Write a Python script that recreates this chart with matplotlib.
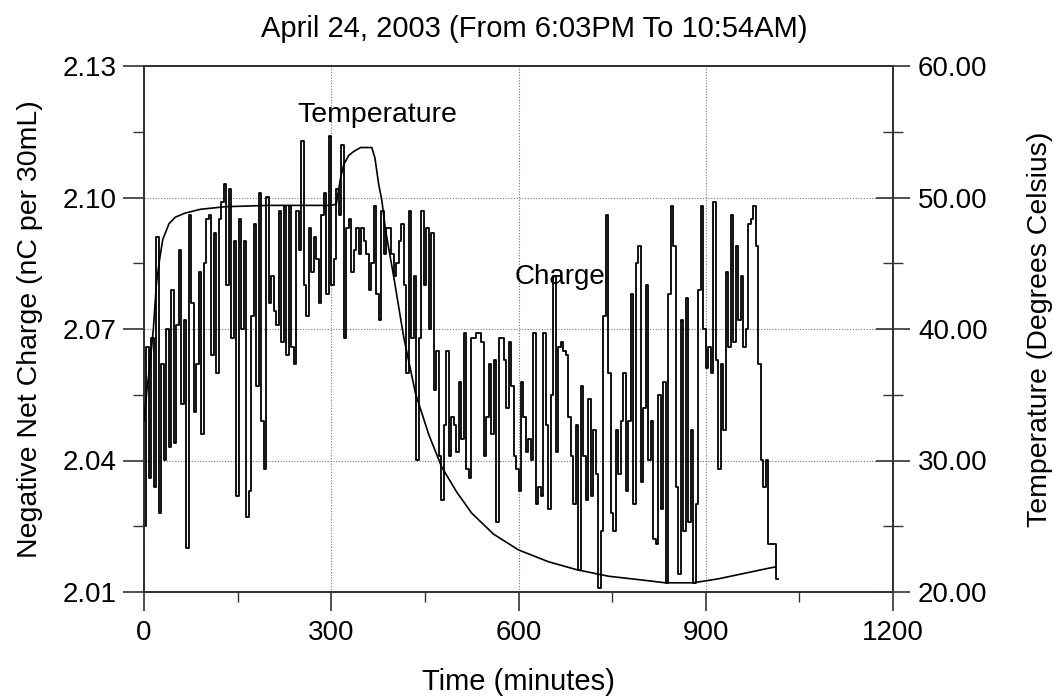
import numpy as np
import matplotlib
matplotlib.use("Agg")
import matplotlib.pyplot as plt
from matplotlib.ticker import MultipleLocator, FormatStrFormatter

plt.rcParams['font.family'] = ['Liberation Sans', 'DejaVu Sans']

TITLE = "April 24, 2003 (From 6:03PM To 10:54AM)"

# Charge readings, one every 4 minutes from the start of the run (nC per 30 mL)
SAMPLE_INTERVAL_MIN = 4
charge = [
    2.025, 2.066, 2.036, 2.068, 2.034, 2.091, 2.028, 2.062, 2.040, 2.070,
    2.043, 2.079, 2.044, 2.071, 2.088, 2.053, 2.072, 2.020, 2.096, 2.076,
    2.051, 2.062, 2.083, 2.046, 2.085, 2.095, 2.096, 2.064, 2.092, 2.060,
    2.095, 2.099, 2.103, 2.080, 2.102, 2.068, 2.090, 2.032, 2.095, 2.070,
    2.090, 2.027, 2.033, 2.073, 2.094, 2.057, 2.101, 2.049, 2.038, 2.100,
    2.076,
    2.082, 2.074, 2.071, 2.097, 2.067, 2.098, 2.064, 2.098, 2.066, 2.062,
    2.097, 2.088, 2.113, 2.080, 2.073, 2.093, 2.083, 2.091, 2.086, 2.076,
    2.096, 2.101, 2.078, 2.114, 2.080, 2.086, 2.102, 2.096, 2.112, 2.068,
    2.093, 2.095, 2.083, 2.088, 2.093, 2.087, 2.093, 2.090, 2.087, 2.079,
    2.085, 2.098, 2.078, 2.072, 2.097, 2.087, 2.093, 2.093, 2.087, 2.082,
    2.085, 2.090, 2.094, 2.080, 2.060, 2.097, 2.068, 2.082, 2.040, 2.068,
    2.097, 2.080, 2.093, 2.070, 2.092, 2.056, 2.065, 2.041, 2.031, 2.048,
    2.065, 2.041, 2.050, 2.048, 2.042, 2.058, 2.045, 2.069, 2.038, 2.036,
    2.068, 2.068, 2.069, 2.069, 2.067, 2.041, 2.050, 2.062, 2.046, 2.063,
    2.026, 2.068, 2.068, 2.063, 2.052, 2.067, 2.057, 2.041, 2.038, 2.033,
    2.058, 2.050, 2.042, 2.045, 2.040, 2.069, 2.030, 2.034, 2.032, 2.069,
    2.048, 2.029, 2.055, 2.082, 2.042, 2.066, 2.067, 2.065, 2.064, 2.050,
    2.041, 2.030, 2.048, 2.015, 2.057, 2.041, 2.031, 2.054, 2.032, 2.047,
    2.037, 2.011, 2.024, 2.073, 2.096, 2.060, 2.028, 2.024, 2.047, 2.037,
    2.049, 2.060, 2.033, 2.049, 2.078, 2.030, 2.085, 2.089, 2.035, 2.052,
    2.080, 2.040, 2.049, 2.022, 2.021, 2.055, 2.029, 2.058, 2.012, 2.078,
    2.098, 2.089, 2.034, 2.014, 2.072, 2.024, 2.077, 2.026, 2.047, 2.012,
    2.030, 2.079, 2.098, 2.070, 2.061, 2.066, 2.060, 2.099, 2.063, 2.038,
    2.062, 2.047, 2.083, 2.066, 2.096, 2.067, 2.089, 2.072, 2.082, 2.066,
    2.070, 2.094, 2.095, 2.098, 2.089, 2.062, 2.040, 2.034, 2.040, 2.021,
    2.021, 2.021, 2.013,
]
END_TIME_MIN = 1015

# Bath temperature (degrees Celsius) at selected times (minutes)
temp_time = [0, 5, 10, 15, 20, 25, 30, 40, 50, 65, 90, 130, 200, 300, 308,
             315, 320, 328, 336, 347, 365, 370, 376, 381, 387, 400, 416, 435,
             456, 477, 501, 525, 560, 600, 648, 693, 744, 800, 835, 880, 920,
             960, 1000, 1011]
temp_value = [33.0, 35.5, 37.5, 40.0, 43.5, 45.3, 46.8, 48.0, 48.5, 48.8, 49.1,
              49.3, 49.4, 49.4, 49.5, 51.5, 52.5, 53.2, 53.5, 53.8, 53.8, 53.0,
              51.0, 49.8, 47.5, 44.0, 39.4, 35.1, 32.0, 29.5, 27.6, 26.0, 24.4,
              23.2, 22.3, 21.7, 21.2, 20.9, 20.7, 20.7, 21.0, 21.4, 21.8, 21.9]

fig = plt.figure(figsize=(10.54, 6.98), dpi=100)
ax = fig.add_axes([144 / 1054, 1 - 592 / 698, (893 - 144) / 1054, (592 - 66) / 698])
ax2 = ax.twinx()

t = np.arange(len(charge)) * SAMPLE_INTERVAL_MIN
t_plot = np.append(t, END_TIME_MIN)
c_plot = np.append(charge, charge[-1])
ax.plot(t_plot, c_plot, drawstyle='steps-post', color='black', lw=1.3, zorder=3)
ax2.plot(temp_time, temp_value, color='black', lw=1.2, zorder=3)

ax.set_xlim(0, 1200)
ax.set_ylim(2.01, 2.13)
ax2.set_ylim(20, 60)

ax.xaxis.set_major_locator(MultipleLocator(300))
ax.xaxis.set_minor_locator(MultipleLocator(150))
ax.yaxis.set_major_locator(MultipleLocator(0.03))
ax.yaxis.set_minor_locator(MultipleLocator(0.015))
ax.yaxis.set_major_formatter(FormatStrFormatter('%.2f'))
ax2.yaxis.set_major_locator(MultipleLocator(10))
ax2.yaxis.set_minor_locator(MultipleLocator(5))
ax2.yaxis.set_major_formatter(FormatStrFormatter('%.2f'))

ax.grid(True, which='major', linestyle=(0, (1, 1.5)), color='#777777', lw=0.8)
ax.set_axisbelow(True)

spine_color = '#333333'
for a in (ax, ax2):
    for s in a.spines.values():
        s.set_color(spine_color)
        s.set_linewidth(1.3)

ax.tick_params(axis='x', which='major', direction='out', length=14, width=1.2,
               color=spine_color, labelsize=20, pad=6)
ax.tick_params(axis='x', which='minor', direction='out', length=7, width=1.0,
               color=spine_color)
ax.tick_params(axis='y', which='major', direction='out', length=15, width=1.2,
               color=spine_color, labelsize=20, pad=5)
ax.tick_params(axis='y', which='minor', direction='out', length=8, width=1.0,
               color=spine_color)
ax2.tick_params(axis='y', which='major', direction='inout', length=24, width=1.2,
                color=spine_color, labelsize=20, pad=6)
ax2.tick_params(axis='y', which='minor', direction='inout', length=14, width=1.0,
                color=spine_color)

ax.set_xlabel("Time (minutes)", fontsize=21, labelpad=16)
ax.set_ylabel("Negative Net Charge (nC per 30mL)", fontsize=20.5, labelpad=14)
ax2.set_ylabel("Temperature (Degrees Celsius)", fontsize=20.5, labelpad=28)
fig.text(0.507, 1 - 29 / 698, TITLE, ha='center', va='center', fontsize=21)

ax.text(373, 2.1188, "Temperature", ha='center', va='center', fontsize=20.5, zorder=5)
ax.text(667, 2.0819, "Charge", ha='center', va='center', fontsize=20, zorder=5)

fig.savefig("out.png", dpi=100)
